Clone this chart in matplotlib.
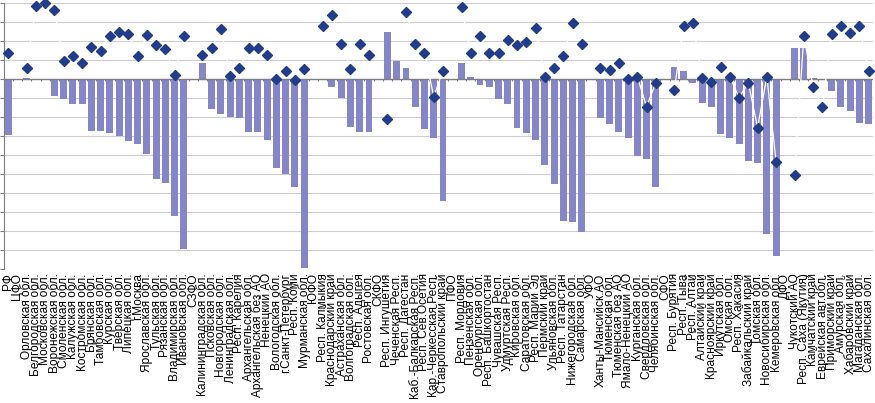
import matplotlib
matplotlib.use('Agg')

import numpy as np
import matplotlib.pyplot as plt

nan = np.nan

# Region names (districts ФО have no values)
regions = [
    "РФ", "ЦФО", "Орловская обл.", "Белгородская обл.", "Московская обл.",
    "Воронежская обл.", "Смоленская обл.", "Калужская обл.", "Костромская обл.",
    "Брянская обл.", "Тамбовская обл.", "Курская обл.", "Тверская обл.",
    "Липецкая обл.", "г.Москва", "Ярославская обл.", "Тульская обл.",
    "Рязанская обл.", "Владимирская обл.", "Ивановская обл.", "СЗФО",
    "Калининградская обл.", "Псковская обл.", "Новгородская обл.",
    "Ленинградская обл.", "Респ. Карелия", "Архангельская обл.",
    "Архангельская без АО", "Ненецкий АО", "Вологодская обл.",
    "г.Санкт-Петербург", "Респ. Коми", "Мурманская обл.", "ЮФО",
    "Респ. Калмыкия", "Краснодарский край", "Астраханская обл.",
    "Волгоградская обл.", "Респ. Адыгея", "Ростовская обл.", "СКФО",
    "Респ. Ингушетия", "Чеченская Респ.", "Респ. Дагестан",
    "Каб.-Балкарская Респ.", "Респ. Сев.Осетия", "Кар.-Черкесская Респ.",
    "Ставропольский край", "ПФО", "Респ. Мордовия", "Пензенская обл.",
    "Оренбургская обл.", "Респ. Башкортостан", "Чувашская Респ.",
    "Удмуртская Респ.", "Кировская обл.", "Саратовская обл.",
    "Респ. Марий Эл", "Пермский край", "Ульяновская обл.", "Респ. Татарстан",
    "Нижегородская обл.", "Самарская обл.", "УФО", "Ханты-Мансийск.АО",
    "Тюменская обл.", "Тюменская без АО", "Ямало-Ненецкий АО",
    "Курганская обл.", "Свердловская обл.", "Челябинская обл.", "СФО",
    "Респ. Бурятия", "Респ. Тыва", "Респ. Алтай", "Алтайский край",
    "Красноярский край", "Иркутская обл.", "Омская обл.", "Респ. Хакасия",
    "Забайкальский край", "Томская обл.", "Новосибирская обл.",
    "Кемеровская обл.", "ДФО", "Чукотский АО", "Респ. Саха (Якутия)",
    "Камчатский край", "Еврейская авт.обл.", "Приморский край",
    "Амурская обл.", "Хабаровский край", "Магаданская обл.",
    "Сахалинская обл.",
]

# bar series
bars = [
    -14.7, nan, 0.3, 0.0, -0.3, -4.4, -5.2, -6.5, -6.5, -13.6, -13.6, -14.1,
    -14.9, -16.2, -17.0, -19.7, -26.2, -27.3, -36.0, -44.7, nan,
    4.3, -7.8, -9.1, -9.9, -10.2, -13.9, -13.9, -16.0, -23.3, -24.9, -28.3,
    -49.6, nan,
    0.0, -2.0, -4.9, -12.6, -13.9, -13.9, nan,
    12.4, 4.6, 3.0, -7.3, -13.1, -15.4, -32.0, nan,
    4.3, 0.6, -1.5, -2.0, -5.2, -6.5, -12.8, -14.1, -16.0, -22.6, -27.6,
    -37.3, -37.6, -40.2, nan,
    -10.2, -11.8, -13.9, -15.4, -20.2, -21.0, -28.3, nan,
    3.2, 2.2, -1.0, -6.2, -7.3, -14.4, -15.4, -17.0, -21.5, -22.0, -40.7,
    -46.5, nan,
    8.2, 8.0, 0.3, 0.0, -3.3, -7.3, -8.3, -11.5, -11.8,
]

# diamond series
points = [
    6.7, nan, 3.0, 19.1, 20.0, 18.0, 4.6, 6.1, 4.2, 8.4, 7.4, 11.4, 12.4,
    11.8, 6.1, 11.5, 9.0, 7.9, 1.1, 11.2, nan,
    6.4, 8.2, 13.2, 0.9, 3.0, 8.0, 8.2, 6.4, 0.1, 2.2, -0.2, 2.7, nan,
    13.8, 16.7, 9.3, 2.7, 9.3, 6.4, nan,
    -10.4, nan, 17.7, 9.3, 6.9, -4.7, 2.2, nan,
    18.8, 6.7, 11.4, 6.9, 6.9, 10.1, 9.0, 9.8, 13.5, 0.6, 3.0, 5.9, 14.8,
    9.3, nan,
    3.0, 2.4, 4.3, 0.1, 0.6, -7.3, -1.0, nan,
    -2.8, 14.0, 14.8, 0.3, -0.7, 3.2, 0.6, -4.9, -1.0, -12.8, 0.6, -21.8, nan,
    -25.2, 11.4, -2.0, -7.3, 11.9, 13.9, 12.2, 13.9, 2.2,
]

plt.rcParams['font.family'] = ['Liberation Sans', 'DejaVu Sans']

x = np.arange(len(regions))

fig = plt.figure(figsize=(8.75, 4.03), dpi=100)
ax = fig.add_axes([0.004, 0.332, 0.994, 0.661])

ax.bar(x, bars, width=0.75, color='#8585C9', zorder=2)
# white connecting line, only seen where it crosses the bars
ax.plot(x, points, color='white', linewidth=0.9, zorder=3)
ax.plot(x, points, linestyle='None', marker='D', markersize=5,
        color='#223C8C', zorder=4, clip_on=False)

ax.set_xlim(-0.5, len(regions) - 0.5)
ax.set_ylim(-50, 20)
ax.set_yticks(np.arange(-50, 21, 5))
ax.set_yticklabels([])
ax.yaxis.grid(True, color='#CDCDCD', linewidth=0.8, zorder=0)
ax.set_axisbelow(True)

# category axis at zero with small ticks between categories
ax.axhline(0, color='#7F7F7F', linewidth=1.0, zorder=2.5)
ax.vlines(np.arange(-0.5, len(regions)), -0.6, 0, color='#7F7F7F',
          linewidth=0.8, zorder=2.5)

ax.set_xticks(x)
ax.set_xticklabels(regions, rotation=90, fontsize=8.6)
ax.tick_params(axis='x', length=0, pad=3)
ax.tick_params(axis='y', length=3, color='#7F7F7F', direction='out')

for s in ['top', 'right', 'bottom']:
    ax.spines[s].set_visible(False)
ax.spines['left'].set_color('#7F7F7F')

fig.savefig('out.png', dpi=100)
